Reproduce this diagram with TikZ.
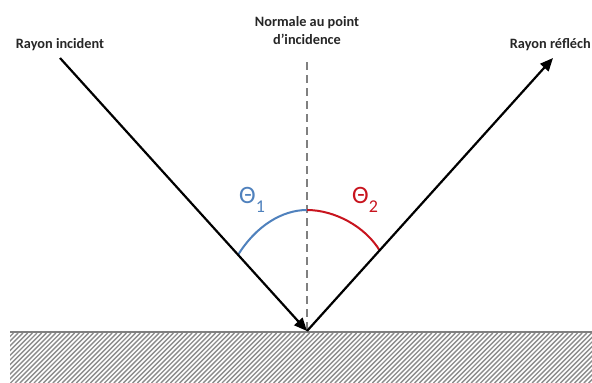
\documentclass[tikz,border=0pt]{standalone}
\usepackage{fontspec}
\setmainfont{Carlito}
\usetikzlibrary{arrows.meta}
\definecolor{thblue}{RGB}{79,129,189}
\definecolor{thred}{RGB}{200,20,30}
\definecolor{surfgray}{RGB}{128,128,128}
\definecolor{hatchgray}{RGB}{140,140,140}
\begin{document}
\begin{tikzpicture}[x=1pt,y=-1pt,
  lbl/.style={inner sep=0pt, font=\fontsize{14.3}{16}\selectfont\bfseries, text=black!85},
  ray/.style={line width=2.2pt, -{Triangle[length=13pt,width=11pt]}},
  normalline/.style={surfgray, line width=1.8pt, dash pattern=on 8pt off 5pt},
  anglearc/.style={line width=2pt},
  thetalbl/.style={inner sep=0pt, anchor=base west, font=\fontsize{25}{25}\selectfont},
  hatchline/.style={hatchgray, line width=1.4pt}]
\useasboundingbox (0,0) rectangle (592,383);
\fill[white] (0,0) rectangle (592,383);
% surface hatch
\begin{scope}
\clip (10,333) rectangle (592,383);
\foreach \i in {-60,-55.3,...,600} \draw[hatchline] (\i,383) -- (\i+50,333);
\end{scope}
\coordinate (SL) at (10,332);
\coordinate (SR) at (592,332);
\draw[surfgray, line width=2.5pt] (SL) -- (SR);
% points
\coordinate (O) at (307,331);
\coordinate (A) at (60,58);
\coordinate (R) at (553,58);
\coordinate (N) at (307,62);
\coordinate (T) at (307,210);
\coordinate (P1) at (238,255);
\coordinate (P2) at (380,251);
% normal
\draw[normalline] (N) -- (O);
% arcs
\draw[anglearc, thblue] (P1) .. controls (256,226) and (282,210) .. (T);
\draw[anglearc, thred] (T) .. controls (334,210) and (365,226) .. (P2);
% rays
\draw[ray] (A) -- (O);
\draw[ray] (O) -- (R);
% labels
\node[lbl, anchor=base] (inc) at (60,48) {Rayon incident};
\node[lbl, anchor=base east] (refl) at (591,48) {Rayon réfléch};
\node[lbl, anchor=base] (norm1) at (307,26) {Normale au point};
\node[lbl, anchor=base] (norm2) at (307,44) {d’incidence};
\node[thetalbl, text=thblue] (th1) at (239,203) {Θ\raisebox{-9pt}{\fontsize{18}{18}\selectfont 1}};
\node[thetalbl, text=thred] (th2) at (352,203) {Θ\raisebox{-9pt}{\fontsize{18}{18}\selectfont 2}};
\end{tikzpicture}
\end{document}
